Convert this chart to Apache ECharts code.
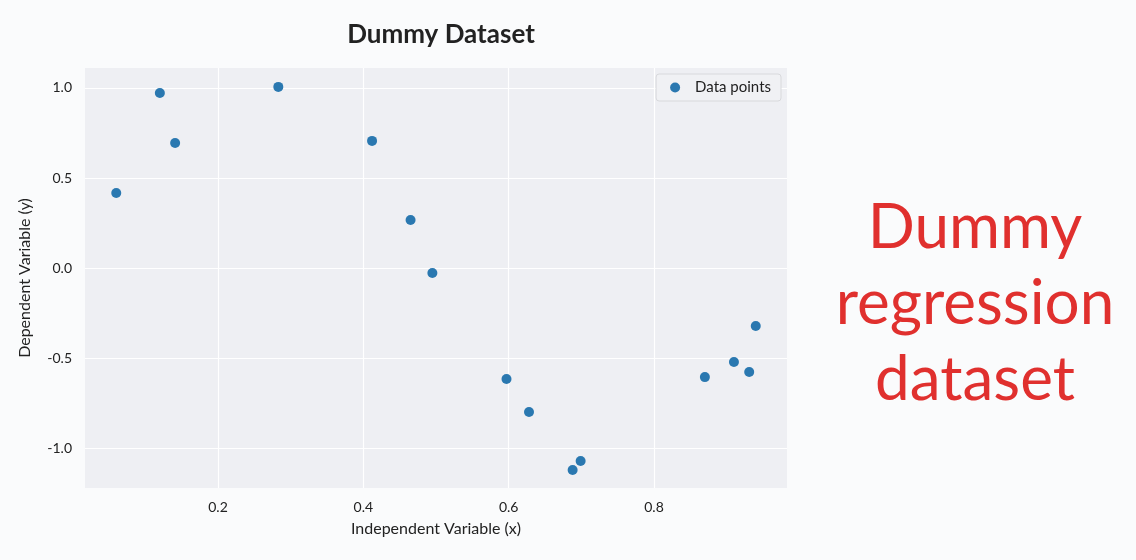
<!DOCTYPE html>
<html>
<head>
<meta charset="utf-8">
<script src="https://cdn.jsdelivr.net/npm/echarts@6/dist/echarts.min.js"></script>
<style>
html, body { margin: 0; padding: 0; background: #fafbfc; }
#chart { width: 1136px; height: 560px; }
</style>
</head>
<body>
<div id="chart"></div>
<script>
// data
var xs = [0.060, 0.120, 0.141, 0.283, 0.412, 0.465, 0.495, 0.597, 0.628, 0.688, 0.699, 0.870, 0.910, 0.931, 0.940];
var ys = [0.417, 0.972, 0.694, 1.006, 0.706, 0.267, -0.028, -0.617, -0.800, -1.122, -1.072, -0.606, -0.522, -0.578, -0.322];
var xTicks = [0.2, 0.4, 0.6, 0.8];
var yTicks = [-1.0, -0.5, 0.0, 0.5, 1.0];

var points = [];
for (var i = 0; i < xs.length; i++) {
    points.push([xs[i], ys[i]]);
}

var font = 'Lato';
var myChart = echarts.init(document.getElementById('chart'));

myChart.setOption({
    backgroundColor: '#fafbfc',
    title: {
        text: 'Dummy Dataset',
        left: 436,
        top: 17,
        textAlign: 'center',
        textStyle: { fontFamily: font, fontSize: 26, fontWeight: 'bold', color: '#222' }
    },
    legend: {
        data: ['Data points'],
        right: 355,
        top: 74,
        icon: 'circle',
        itemWidth: 10,
        itemHeight: 10,
        itemGap: 10,
        padding: [6, 10, 6, 14],
        backgroundColor: '#f0f1f4',
        borderColor: '#d8d9dc',
        borderWidth: 1,
        borderRadius: 3,
        textStyle: { fontFamily: font, fontSize: 15, color: '#222', padding: [0, 0, 0, 10] }
    },
    grid: {
        left: 85,
        right: 349,
        top: 68,
        bottom: 72,
        show: true,
        backgroundColor: '#eeeff3',
        borderWidth: 0
    },
    xAxis: {
        type: 'value',
        min: 0.017,
        max: 0.983,
        name: 'Independent Variable (x)',
        nameLocation: 'middle',
        nameGap: 33,
        nameTextStyle: { fontFamily: font, fontSize: 16, color: '#222' },
        axisLine: { show: false },
        axisTick: { show: false },
        splitLine: { show: false },
        axisLabel: { show: false }
    },
    yAxis: {
        type: 'value',
        min: -1.222,
        max: 1.111,
        name: 'Dependent Variable (y)',
        nameLocation: 'middle',
        nameGap: 52,
        nameTextStyle: { fontFamily: font, fontSize: 16, color: '#222' },
        axisLine: { show: false },
        axisTick: { show: false },
        splitLine: { show: false },
        axisLabel: { show: false }
    },
    series: [
        {
            // gridlines at the fixed ticks
            type: 'line',
            silent: true,
            z: 0,
            data: [],
            markLine: {
                silent: true,
                z: 1,
                symbol: 'none',
                animation: false,
                label: { show: false },
                lineStyle: { color: '#ffffff', width: 1.2, type: 'solid' },
                data: xTicks.map(function (v) { return { xAxis: v }; })
                    .concat(yTicks.map(function (v) { return { yAxis: v }; }))
            }
        },
        {
            name: 'Data points',
            type: 'scatter',
            symbolSize: 10,
            z: 3,
            itemStyle: { color: '#2a78b0', opacity: 1 },
            data: points
        }
    ]
});

// tick labels placed through the axis scale
function drawTicks() {
    var els = [];
    xTicks.forEach(function (v) {
        var p = myChart.convertToPixel({ gridIndex: 0 }, [v, -1.222]);
        els.push({
            type: 'text', x: p[0], y: p[1] + 12,
            style: { text: v.toFixed(1), fontFamily: font, fontSize: 14, fill: '#222', align: 'center', verticalAlign: 'top' }
        });
    });
    yTicks.forEach(function (v) {
        var p = myChart.convertToPixel({ gridIndex: 0 }, [0.017, v]);
        els.push({
            type: 'text', x: p[0] - 13, y: p[1],
            style: { text: v.toFixed(1), fontFamily: font, fontSize: 14, fill: '#222', align: 'right', verticalAlign: 'middle' }
        });
    });
    var lines = ['Dummy', 'regression', 'dataset'];
    lines.forEach(function (t, i) {
        els.push({
            type: 'text', x: 975, y: 228 + i * 76,
            style: { text: t, fontFamily: font, fontSize: 62, fontWeight: 'normal', fill: '#e0302e', align: 'center', verticalAlign: 'middle' }
        });
    });
    myChart.setOption({ graphic: els });
}
drawTicks();
</script>
</body>
</html>
